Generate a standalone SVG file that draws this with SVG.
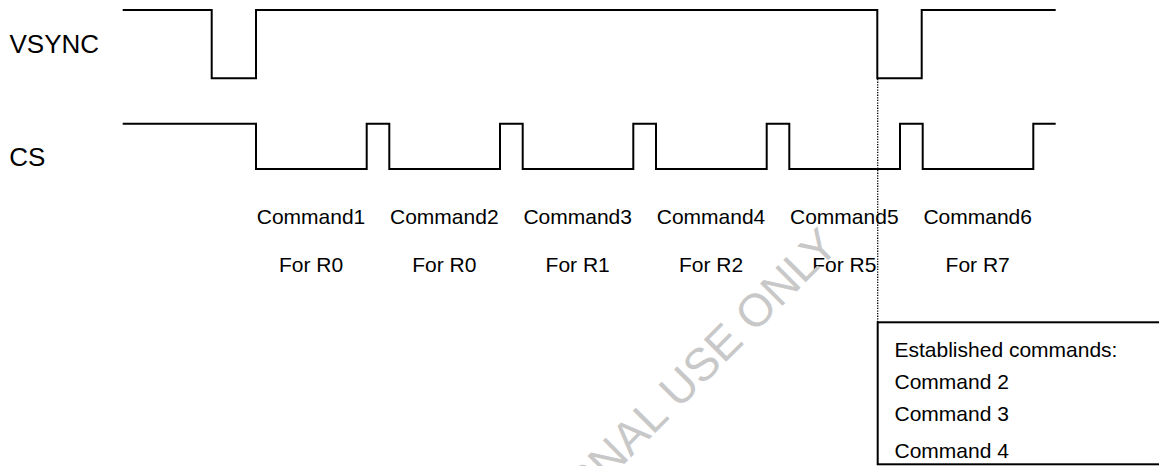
<svg xmlns="http://www.w3.org/2000/svg" width="1159" height="466" viewBox="0 0 1159 466">
<style>
  .wave { fill: none; stroke: #000; stroke-width: 2; stroke-linejoin: miter; }
  .sig { font-family: "Liberation Sans", Arial, sans-serif; font-size: 26px; fill: #000; }
  .lbl { font-family: "Liberation Sans", Arial, sans-serif; font-size: 21px; fill: #000; text-anchor: middle; }
  .box { fill: none; stroke: #000; stroke-width: 2; }
  .boxtxt { font-family: "Liberation Sans", Arial, sans-serif; font-size: 21px; fill: #000; }
  .dots { stroke: #000; stroke-width: 1.3; stroke-dasharray: 1.3 1.3; fill: none; }
  .wm { font-family: "Liberation Sans", Arial, sans-serif; font-size: 46px; fill: #c8c8c8; text-anchor: end; }
</style>
<rect width="1159" height="466" fill="#fff"/>
<g id="vsync">
  <text class="sig" x="9.5" y="53.3">VSYNC</text>
  <path class="wave" d="M122.7 10 H211.7 V78.3 H256 V10 H877.3 V78.3 H921.7 V10 H1055.7"/>
</g>
<g id="cs">
  <text class="sig" x="9.3" y="166.3">CS</text>
  <path class="wave" d="M122.7 123.7 H256 V169 H366.7 V123.7 H389.3 V169 H500 V123.7 H522.7 V169 H633.3 V123.7 H656 V169 H766.7 V123.7 H789.3 V169 H900 V123.7 H922.7 V169 H1033.3 V123.7 H1055.7"/>
</g>
<g id="connectors">
  <line class="dots" x1="877.7" y1="79" x2="877.7" y2="322"/>
</g>
<g id="command-labels">
  <text class="lbl" x="311" y="224">Command1</text>
  <text class="lbl" x="444.3" y="224">Command2</text>
  <text class="lbl" x="577.7" y="224">Command3</text>
  <text class="lbl" x="711" y="224">Command4</text>
  <text class="lbl" x="844.3" y="224">Command5</text>
  <text class="lbl" x="977.7" y="224">Command6</text>
  <text class="lbl" x="311" y="272">For R0</text>
  <text class="lbl" x="444.3" y="272">For R0</text>
  <text class="lbl" x="577.7" y="272">For R1</text>
  <text class="lbl" x="711" y="272">For R2</text>
  <text class="lbl" x="844.3" y="272">For R5</text>
  <text class="lbl" x="977.7" y="272">For R7</text>
</g>
<g id="established-box">
  <rect class="box" x="877.7" y="322.3" width="320" height="142"/>
  <text class="boxtxt" x="894.5" y="356.7">Established commands:</text>
  <text class="boxtxt" x="894.5" y="388.8">Command 2</text>
  <text class="boxtxt" x="894.5" y="420.8">Command 3</text>
  <text class="boxtxt" x="894.5" y="457.5">Command 4</text>
</g>
<g id="watermark">
  <text class="wm" transform="translate(840.5,247.7) rotate(-45)" x="0" y="0">INTERNAL USE ONLY</text>
</g>
</svg>
